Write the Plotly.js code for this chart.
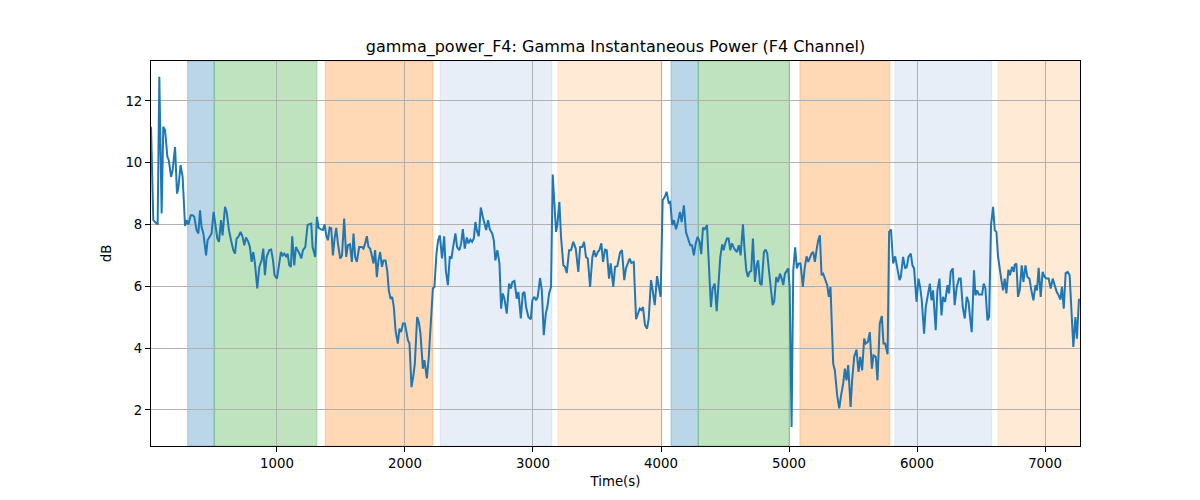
<!DOCTYPE html>
<html>
<head>
<meta charset="utf-8">
<script src="https://cdn.plot.ly/plotly-3.0.1.min.js"></script>
<style>html,body{margin:0;padding:0;background:#fff;}#chart{width:1200px;height:500px;}</style>
</head>
<body>
<div id="chart"></div>
<script>
const times = [16,34,68,81,99,112,126,144,155,173,185,204,219,229,247,263,282,294,308,326,341,354,372,386,399,411,425,446,458,477,489,505,521,534,547,563,575,594,607,625,641,659,672,685,698,716,731,745,758,776,789,802,815,828,846,862,880,893,906,919,
940,955,969,981,1000,1012,1031,1044,1057,1073,1083,1096,1109,1119,1135,1148,1164,1176,1190,1203,1221,1239,1254,1268,1278,1299,1312,1325,1343,1359,1372,1385,1398,1411,1424,1437,1450,1463,1476,1494,1508,1525,1541,1554,1570,1585,1598,1611,1624,1642,1663,1676,1689,1702,1715,1728,1741,1754,1767,1780,1793,1806,1820,1832,
1848,1861,1874,1887,1900,1913,1926,1944,1957,1970,1984,1999,2009,2023,2035,2051,2064,2077,2095,2108,2121,2140,2152,2171,2186,2202,2218,2230,2246,2259,2272,2290,2306,2319,2335,2350,2363,2376,2394,2407,2425,2439,2452,2467,2483,2496,2511,2524,2538,2550,2564,2577,2592,2608,2624,2634,2649,2663,2681,2694,2706,2722,2738,2751,
2764,2777,2795,2813,2827,2839,2855,2873,2886,2905,2920,2933,2946,2964,2983,2995,3011,3024,3037,3055,3069,3084,3100,3112,3126,3141,3154,3167,3180,3190,3206,3219,3237,3250,3264,3282,3297,3315,3334,3354,3368,3385,3399,3414,3428,3446,3464,3477,3490,3506,3518,3534,3547,3563,3576,3594,3607,3627,3641,3659,3680,
3695,3713,3726,3742,3755,3768,3787,3805,3820,3834,3846,3859,3875,3891,3904,3922,3935,3951,3969,3982,3997,4013,4029,4044,4060,4072,4088,4101,4117,4132,4148,4161,4179,4195,4210,4228,4242,4257,4271,4286,4302,4314,4328,4341,4359,4375,4390,4403,4419,4435,4450,4463,4478,4489,4502,4515,4528,4541,4554,4572,4593,
4608,4622,4640,4653,4666,4679,4692,4705,4718,4734,4747,4759,4773,4786,4804,4817,4830,4843,4856,4872,4884,4900,4915,4929,4943,4955,4968,4981,4994,5005,5020,5033,5048,5061,5075,5090,5108,5122,5137,5150,5163,5176,5189,5202,5215,5228,5241,5254,5267,5280,5298,5311,5324,5345,5358,5376,5392,5407,5423,5436,5449,5462,5481,5493,
5509,5527,5543,5556,5571,5587,5600,5616,5631,5647,5660,5678,5691,5709,5725,5738,5751,5770,5782,5797,5813,5829,5847,5863,5873,5891,5907,5920,5933,5951,5964,5977,5996,6011,6024,6037,6055,6068,6082,6100,6113,6125,6146,6159,6175,6191,6203,6219,6238,6250,6263,6279,6294,6310,6328,6341,6357,6373,6388,6402,6414,6427,6445,
6456,6469,6482,6495,6508,6521,6534,6550,6563,6578,6594,6607,6620,6633,6646,6659,6672,6685,6698,6714,6726,6742,6755,6763,6776,6789,6802,6818,6831,6847,6862,6878,6893,6909,6925,6937,6950,6966,6981,6997,7013,7028,7044,7060,7075,7091,7106,7120,7132,7146,7161,7177,7192,7206,7221,7237,7249,7265];

const gammaDb = [11.16,8.14,8.0,12.78,8.36,11.16,11.05,10.19,10.08,9.54,9.76,10.51,9.0,9.16,9.92,9.54,7.95,8.14,8.0,8.3,8.3,8.25,7.82,7.71,8.46,7.92,7.71,7.0,7.49,7.6,7.71,8.41,7.92,7.55,7.44,8.14,7.65,8.57,8.41,7.82,7.49,7.17,7.06,7.55,7.6,7.76,7.6,7.33,7.58,7.44,7.27,6.79,7.11,6.74,5.93,6.63,6.84,7.22,6.36,6.95,
7.17,7.19,6.84,6.36,6.25,6.63,7.11,7.0,7.06,6.95,7.06,6.68,6.63,7.62,6.68,7.27,7.17,7.06,6.9,7.17,7.27,7.98,8.01,8.03,7.27,6.95,8.25,7.9,7.84,7.82,8.0,7.65,7.49,7.9,7.88,7.0,7.55,7.89,7.39,6.9,7.0,8.19,6.95,7.33,7.36,6.79,7.71,6.95,6.79,7.27,7.27,7.22,7.39,7.62,7.27,7.22,7.0,6.74,7.17,6.3,6.84,7.11,6.63,6.84,
6.84,6.52,5.87,5.6,5.66,5.33,4.58,4.15,4.63,4.52,4.8,4.8,4.58,4.26,4.15,2.74,3.07,3.5,5.01,4.85,4.47,3.34,3.61,3.02,3.72,4.69,5.93,5.98,7.06,7.49,7.65,6.9,7.62,6.52,6.04,6.97,6.9,7.27,7.71,7.27,7.17,7.39,7.85,7.22,7.58,7.39,7.51,7.44,7.55,8.08,7.76,7.62,8.55,8.25,7.92,7.82,8.14,7.84,7.71,7.49,6.84,7.17,6.74,5.28,
5.77,5.6,5.12,6.09,5.93,6.14,6.17,5.6,5.82,4.96,5.77,5.82,5.33,5.01,4.93,5.55,5.66,5.55,5.66,6.27,5.87,4.42,5.12,5.33,5.77,5.98,9.62,8.52,7.76,7.98,8.73,7.6,6.68,6.63,6.43,7.17,7.17,7.44,7.22,6.47,7.27,7.27,7.44,6.95,6.9,5.98,6.95,7.17,6.95,7.11,7.17,7.39,6.79,7.19,7.17,6.25,6.74,5.98,6.63,6.65,7.1,
7.17,6.2,6.58,6.74,6.9,6.76,6.79,4.94,5.12,5.28,5.23,5.33,4.74,4.63,4.96,6.2,5.87,5.39,6.33,6.04,5.66,8.79,8.89,9.06,8.7,8.73,7.98,8.14,7.85,8.08,8.41,8.08,8.62,7.76,7.55,7.33,7.33,7.0,7.39,7.6,7.44,7.04,7.9,7.85,7.98,6.41,5.33,5.93,6.09,5.2,6.14,6.95,7.36,7.17,7.39,7.55,7.55,7.17,7.39,7.22,7.11,
7.33,7.0,8.01,7.17,6.52,6.3,6.47,6.5,7.55,6.14,6.68,6.84,6.09,6.04,7.11,7.19,7.06,6.52,6.09,5.39,5.5,6.3,6.14,6.41,6.25,6.04,6.41,6.52,6.58,5.98,1.45,6.52,7.26,6.58,6.74,6.74,5.98,6.58,6.97,6.79,6.9,7.06,7.11,6.79,7.17,7.49,7.65,6.36,6.41,6.25,6.04,5.66,5.98,3.5,3.28,2.48,2.05,2.48,2.85,3.34,2.96,3.45,2.1,2.96,
3.72,3.95,3.23,3.72,3.28,4.31,4.15,4.2,4.52,3.34,3.77,3.72,2.96,4.8,5.04,4.15,4.15,3.8,7.76,7.84,6.74,6.97,6.52,6.2,6.3,6.95,6.58,6.63,6.95,7.06,6.68,6.58,5.5,6.25,5.98,5.55,4.47,5.33,5.66,6.09,5.55,5.87,4.58,5.87,6.25,5.06,5.66,5.5,6.04,5.77,6.47,6.58,5.39,5.98,6.25,6.25,5.33,4.96,5.66,5.5,5.0,4.52,6.52,
5.71,5.87,5.74,5.74,5.74,6.09,5.93,4.9,5.01,7.98,8.57,7.82,7.76,6.95,6.52,6.2,5.87,6.25,5.77,6.54,6.36,6.63,6.47,6.7,6.74,5.66,5.87,6.68,6.14,6.68,6.3,6.25,5.87,5.55,6.04,5.87,6.6,5.66,6.47,6.3,6.25,6.25,5.93,6.25,6.04,5.82,5.71,5.57,5.98,5.28,6.43,6.47,6.36,5.33,4.04,5.01,4.31,5.6];

const regionStart = [302, 510, 1377, 2274, 3194, 4078, 4291, 5085, 5827, 6633];
const regionEnd   = [510, 1312, 2218, 3147, 4005, 4291, 5001, 5788, 6582, 7300];
const regionColor = ['rgba(31,119,180,0.3)','rgba(44,160,44,0.3)','rgba(255,127,14,0.3)','rgba(174,199,232,0.3)','rgba(255,187,120,0.3)',
                     'rgba(31,119,180,0.3)','rgba(44,160,44,0.3)','rgba(255,127,14,0.3)','rgba(174,199,232,0.3)','rgba(255,187,120,0.3)'];

const xTicks = [1000,2000,3000,4000,5000,6000,7000];
const yTicks = [2,4,6,8,10,12];

const shapes = regionStart.map((s, i) => ({
  type: 'rect', xref: 'x', yref: 'paper', x0: s, x1: regionEnd[i], y0: 0, y1: 1,
  fillcolor: regionColor[i], line: {color: regionColor[i], width: 1}, layer: 'below'
}));

const trace = {
  x: times, y: gammaDb, type: 'scatter', mode: 'lines',
  line: {color: '#1f77b4', width: 2}, hoverinfo: 'skip'
};

const font = {family: 'DejaVu Sans, sans-serif', size: 13.3, color: '#000'};

const layout = {
  width: 1200, height: 500,
  paper_bgcolor: '#fff', plot_bgcolor: 'rgba(0,0,0,0)',
  margin: {l: 151, r: 120, t: 61, b: 54},
  font: font,
  showlegend: false,
  title: {text: 'gamma_power_F4: Gamma Instantaneous Power (F4 Channel)',
          font: {family: 'DejaVu Sans, sans-serif', size: 16, color: '#000'},
          x: 0.5, xref: 'paper', xanchor: 'center', y: 0.908, yref: 'container', yanchor: 'middle'},
  xaxis: {
    range: [16, 7273], tickvals: xTicks, ticktext: xTicks.map(String),
    showgrid: true, gridcolor: '#b0b0b0', gridwidth: 1,
    showline: true, mirror: true, linecolor: '#000', linewidth: 1,
    ticks: 'outside', ticklen: 5, tickwidth: 1, tickcolor: '#000',
    zeroline: false, tickfont: font,
    title: {text: 'Time(s)', font: font, standoff: 6}
  },
  yaxis: {
    range: [0.835, 13.29], tickvals: yTicks, ticktext: yTicks.map(String),
    showgrid: true, gridcolor: '#b0b0b0', gridwidth: 1,
    showline: true, mirror: true, linecolor: '#000', linewidth: 1,
    ticks: 'outside', ticklen: 5, tickwidth: 1, tickcolor: '#000',
    zeroline: false, tickfont: font,
    title: {text: 'dB', font: font, standoff: 10}
  },
  shapes: shapes
};

Plotly.newPlot('chart', [trace], layout, {displayModeBar: false, staticPlot: true});
</script>
</body>
</html>
